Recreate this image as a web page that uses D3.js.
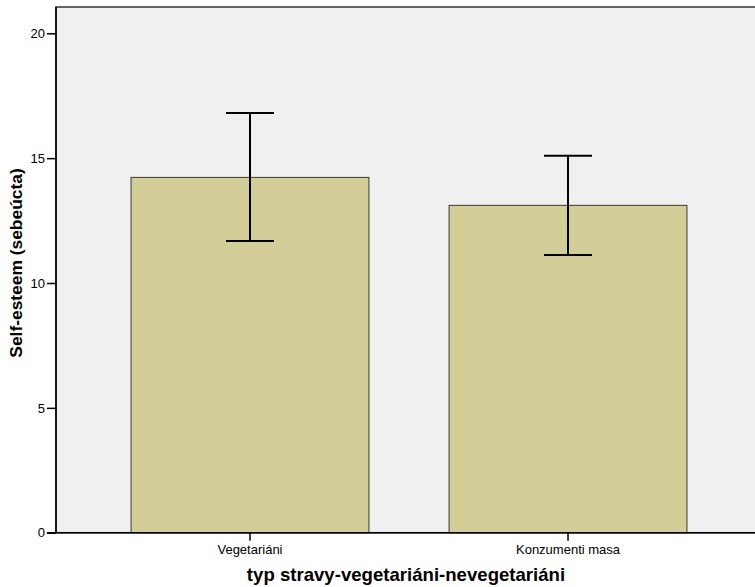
<!DOCTYPE html>
<html>
<head>
<meta charset="utf-8">
<script src="https://cdn.jsdelivr.net/npm/d3@7"></script>
<style>
  body { margin: 0; background: #fff; }
  svg { display: block; font-family: Arial, "Liberation Sans", sans-serif; }
</style>
</head>
<body>
<svg id="chart" width="755" height="587"></svg>
<script>
// values
let categories = ["Vegetariáni", "Konzumenti masa"];
let means = [14.23, 13.11];
let ciLow = [11.68, 11.12];
let ciHigh = [16.81, 15.10];
let yTicks = [0, 5, 10, 15, 20];

let svg = d3.select("#chart");
let plotL = 56, plotR = 762, plotT = 7, plotB = 532.7;

let x = d3.scaleBand().domain(categories).range([plotL, plotR]).paddingInner(0.252).paddingOuter(0.236);
let y = d3.scaleLinear().domain([0, 20]).range([plotB, 33.3]);

// plot background + frame
svg.append("rect").attr("x", plotL).attr("y", plotT).attr("width", plotR - plotL).attr("height", plotB - plotT)
  .attr("fill", "#f0f0f0").attr("stroke", "#333").attr("stroke-width", 1.5);

// bars
svg.selectAll(".bar").data(categories).enter().append("rect")
  .attr("class", "bar")
  .attr("x", d => x(d))
  .attr("y", (d, i) => y(means[i]))
  .attr("width", x.bandwidth())
  .attr("height", (d, i) => y(0) - y(means[i]))
  .attr("fill", "#d3ce98")
  .attr("stroke", "#3a3a30")
  .attr("stroke-width", 1);

// error bars
let capW = 24;
categories.forEach(function(c, i){
  let cx = x(c) + x.bandwidth() / 2;
  let g = svg.append("g").attr("stroke", "#000").attr("stroke-width", 2);
  g.append("line").attr("x1", cx).attr("x2", cx).attr("y1", y(ciLow[i])).attr("y2", y(ciHigh[i]));
  g.append("line").attr("x1", cx - capW).attr("x2", cx + capW).attr("y1", y(ciLow[i])).attr("y2", y(ciLow[i]));
  g.append("line").attr("x1", cx - capW).attr("x2", cx + capW).attr("y1", y(ciHigh[i])).attr("y2", y(ciHigh[i]));
});

// axes
let yAxis = svg.append("g").attr("transform", "translate(" + plotL + ",0)")
  .call(d3.axisLeft(y).tickValues(yTicks).tickSize(9).tickPadding(2).tickSizeOuter(0));
yAxis.select(".domain").attr("stroke", "#000").attr("stroke-width", 1.5).attr("d", "M0," + plotT + "V" + plotB);
yAxis.selectAll(".tick line").attr("stroke", "#000").attr("stroke-width", 1.5);
yAxis.selectAll(".tick text").attr("font-size", 13).attr("fill", "#000");

let xAxis = svg.append("g").attr("transform", "translate(0," + plotB + ")")
  .call(d3.axisBottom(x).tickSize(8).tickPadding(4).tickSizeOuter(0));
xAxis.select(".domain").attr("stroke", "#000").attr("stroke-width", 1.5).attr("d", "M" + (plotL - 9) + ",0H" + plotR);
xAxis.selectAll(".tick line").attr("stroke", "#000").attr("stroke-width", 1.5);
xAxis.selectAll(".tick text").attr("font-size", 13).attr("fill", "#000");

// titles
svg.append("text").attr("x", 406).attr("y", 581).attr("text-anchor", "middle")
  .attr("font-size", 18.6).attr("font-weight", "bold").text("typ stravy-vegetariáni-nevegetariáni");
svg.append("text").attr("transform", "translate(22,263) rotate(-90)").attr("text-anchor", "middle")
  .attr("font-size", 17.4).attr("font-weight", "bold").text("Self-esteem (sebeúcta)");
</script>
</body>
</html>
